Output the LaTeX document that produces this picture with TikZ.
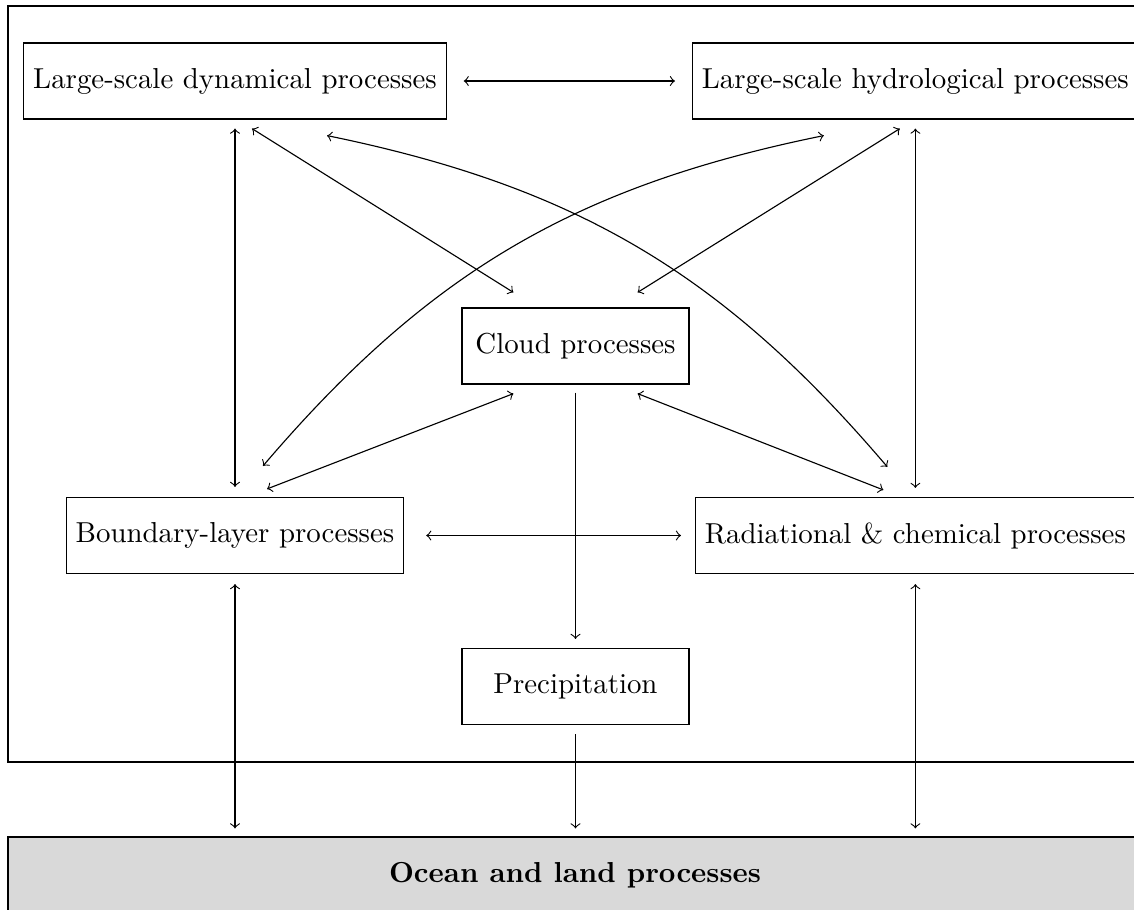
\documentclass[tikz,border=0pt]{standalone}
\usetikzlibrary{calc}
\begin{document}
\begin{tikzpicture}[x=0.3552pt,y=-0.3552pt,
  proc/.style={draw, minimum height=27pt, inner xsep=3.333pt, font=\fontsize{10.25}{12}\selectfont},
  link/.style={<->},
  flow/.style={->}]
\useasboundingbox (0,0) rectangle (1134,909);
\draw (8,6) rectangle (1142,762);
\node[draw, fill=gray!30, minimum width=402.8pt, minimum height=27pt, font=\fontsize{10.25}{12}\selectfont\bfseries] (ocean) at (575,875) {Ocean and land processes};

\node[proc] (dyn) at (235,81) {Large-scale dynamical processes};
\node[proc, anchor=west] (hyd) at (692,81) {Large-scale hydrological processes};
\node[proc, minimum width=80.6pt] (cloud) at (575.5,346) {Cloud processes};
\node[proc] (bl) at (235,535.5) {Boundary-layer processes};
\node[proc, anchor=west] (rad) at (695,535.5) {Radiational \& chemical processes};
\node[proc, minimum width=80.6pt] (prec) at (575.5,686.5) {Precipitation};

\draw[link] ($(dyn.east)+(17,0)$) -- ($(hyd.west)+(-17,0)$);
\draw[link] ($(dyn.south)+(0,9)$) -- ($(bl.north)+(0,-10)$);
\draw[link] ($(dyn.south)+(17,9)$) -- ($(cloud.north west)+(52,-15)$);
\draw[link] ($(dyn.south)+(92,16)$) to[bend left=19] ($(hyd.south |- rad.north)+(-28,-30)$);
\draw[link] ($(hyd.south)+(-91.5,16)$) to[bend right=19] ($(bl.north)+(28,-31)$);
\draw[link] ($(hyd.south)+(-15.5,9)$) -- ($(cloud.north east)+(-52,-15)$);
\draw[link] ($(hyd.south)+(0,9)$) -- ($(hyd.south |- rad.north)+(0,-9)$);
\draw[link] ($(cloud.south west)+(52,9)$) -- ($(bl.north)+(32,-8)$);
\draw[link] ($(cloud.south east)+(-52,9)$) -- ($(hyd.south |- rad.north)+(-32,-7)$);
\draw[flow] ($(cloud.south)+(0,8)$) -- ($(prec.north)+(0,-9)$);
\draw[link] ($(bl.east)+(22,0)$) -- ($(rad.west)+(-14,0)$);
\draw[link] ($(bl.south)+(0,10)$) -- ($(bl.south |- ocean.north)+(0,-8)$);
\draw[flow] ($(prec.south)+(0,9)$) -- ($(prec.south |- ocean.north)+(0,-8)$);
\draw[link] ($(hyd.south |- rad.south)+(0,10)$) -- ($(hyd.south |- ocean.north)+(0,-8)$);
\end{tikzpicture}
\end{document}
